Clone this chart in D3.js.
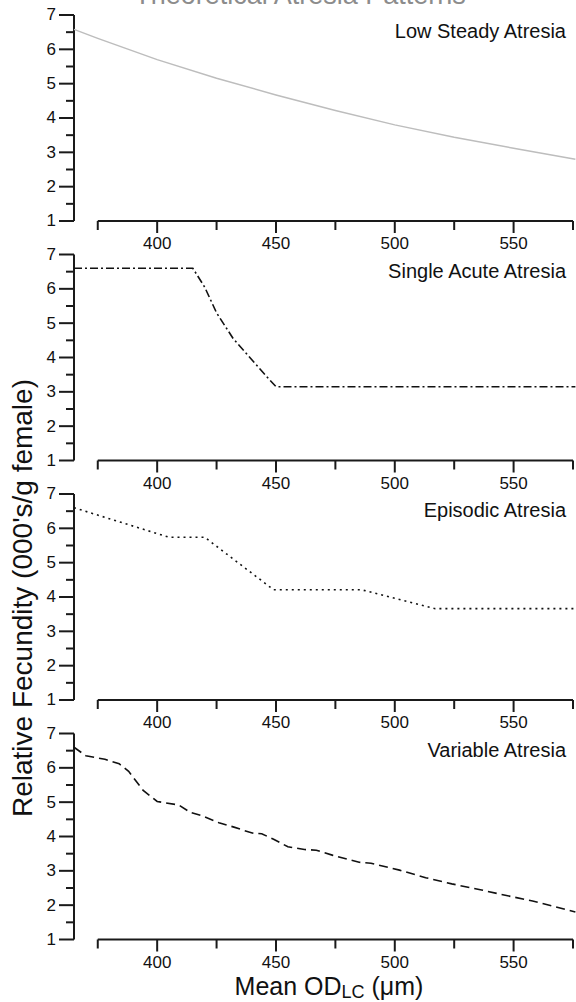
<!DOCTYPE html>
<html>
<head>
<meta charset="utf-8">
<script src="https://cdn.jsdelivr.net/npm/d3@7"></script>
<style>
    body { margin: 0; background: #fff; }
    text { font-family: 'Liberation Sans', Arial, sans-serif; }
</style>
</head>
<body>
<div id="container"></div>
<script>
// values
const panelNames = ['Low Steady Atresia', 'Single Acute Atresia', 'Episodic Atresia', 'Variable Atresia']

const lowSteadyX = [365, 375, 400, 425, 450, 475, 500, 525, 550, 576]
const lowSteadyY = [6.58, 6.32, 5.7, 5.16, 4.67, 4.22, 3.8, 3.44, 3.12, 2.8]

const singleAcuteX = [365, 415, 420, 425, 432, 439, 446, 450, 576]
const singleAcuteY = [6.6, 6.6, 6.05, 5.3, 4.55, 4.0, 3.45, 3.15, 3.15]

const episodicX = [365, 405, 420, 449, 486, 517, 576]
const episodicY = [6.6, 5.74, 5.74, 4.21, 4.21, 3.66, 3.66]

const variableX = [365, 370, 378, 384, 388, 394, 400, 409, 414, 419, 426, 432, 440, 444, 449,
    455, 462, 467, 474, 485, 490, 502, 513, 524, 536, 547, 558, 566, 576]
const variableY = [6.6, 6.35, 6.25, 6.12, 5.9, 5.35, 5.02, 4.92, 4.7, 4.6, 4.4, 4.28, 4.1, 4.08, 3.92,
    3.7, 3.62, 3.6, 3.45, 3.25, 3.22, 3.02, 2.8, 2.62, 2.45, 2.28, 2.12, 1.98, 1.8]

const xDomain = [365, 575]
const xAxisDomain = [375, 575]
const xMajorTicks = [400, 450, 500, 550]
const xMinorTicks = [375, 425, 475, 525, 575]
const yDomain = [1, 7]
const yMajorTicks = [1, 2, 3, 4, 5, 6, 7]
const yMinorTicks = [1.5, 2.5, 3.5, 4.5, 5.5, 6.5]

const config = {
    width: 576,
    height: 1002,
    plot: { left: 74, right: 573 },
    panel: { top: 15, step: 239.5, height: 206 },
    tick: { yMajor: 15, yMinor: 8, xMajor: 12, xMinor: 9 },
    axisColor: '#1a1a1a',
}

const panels = [
    { name: panelNames[0], xs: lowSteadyX, ys: lowSteadyY, color: '#bdbdbd', dash: null },
    { name: panelNames[1], xs: singleAcuteX, ys: singleAcuteY, color: '#111', dash: '8,3,2,3' },
    { name: panelNames[2], xs: episodicX, ys: episodicY, color: '#111', dash: '2,4' },
    { name: panelNames[3], xs: variableX, ys: variableY, color: '#111', dash: '9,5' },
]

const svg = d3
    .select('#container')
    .append('svg')
    .attr('width', config.width)
    .attr('height', config.height)
    .attr('viewBox', `0 0 ${config.width} ${config.height}`)

const scaleX = d3
    .scaleLinear()
    .domain(xDomain)
    .range([config.plot.left, config.plot.right])

// the x axis is drawn detached from the y axis, starting at 375
const axisScaleX = scaleX
    .copy()
    .domain(xAxisDomain)
    .range(xAxisDomain.map(scaleX))

// title, cut off at the top of the picture
svg.append('text')
    .attr('x', 300)
    .attr('y', 4)
    .attr('text-anchor', 'middle')
    .attr('font-size', '27px')
    .attr('fill', '#8c8c8c')
    .text('Theoretical Atresia Patterns')

function styleAxis(g) {
    g.selectAll('path, line')
        .attr('stroke', config.axisColor)
        .attr('stroke-width', 2)
    g.selectAll('text')
        .attr('fill', '#111')
        .attr('font-size', '17px')
        .attr('font-family', "'Liberation Sans', Arial, sans-serif")
}

panels.forEach((panel, i) => {
    const top = config.panel.top + i * config.panel.step
    const bottom = top + config.panel.height

    const scaleY = d3
        .scaleLinear()
        .domain(yDomain)
        .range([bottom, top])

    const root = svg.append('g')

    // y axis, major and minor ticks
    root.append('g')
        .attr('transform', `translate(${config.plot.left}, 0)`)
        .call(d3.axisLeft(scaleY)
            .tickValues(yMajorTicks)
            .tickFormat(d3.format('d'))
            .tickSize(config.tick.yMajor)
            .tickSizeOuter(0)
            .tickPadding(3)
            .offset(0))
        .call(styleAxis)

    root.append('g')
        .attr('transform', `translate(${config.plot.left}, 0)`)
        .call(d3.axisLeft(scaleY)
            .tickValues(yMinorTicks)
            .tickSize(config.tick.yMinor)
            .tickFormat('')
            .offset(0))
        .call(g => g.select('.domain').remove())
        .call(styleAxis)

    // x axis
    root.append('g')
        .attr('transform', `translate(0, ${bottom})`)
        .call(d3.axisBottom(axisScaleX)
            .tickValues(xMajorTicks)
            .tickFormat(d3.format('d'))
            .tickSize(config.tick.xMajor)
            .tickSizeOuter(0)
            .tickPadding(4)
            .offset(0))
        .call(styleAxis)

    root.append('g')
        .attr('transform', `translate(0, ${bottom})`)
        .call(d3.axisBottom(axisScaleX)
            .tickValues(xMinorTicks)
            .tickSize(config.tick.xMinor)
            .tickFormat('')
            .offset(0))
        .call(g => g.select('.domain').remove())
        .call(styleAxis)

    const points = panel.xs.map((x, j) => [x, panel.ys[j]])

    const line = d3.line()
        .x(d => scaleX(d[0]))
        .y(d => scaleY(d[1]))

    root.append('path')
        .datum(points)
        .attr('d', line)
        .attr('fill', 'none')
        .attr('stroke', panel.color)
        .attr('stroke-width', panel.dash ? 1.6 : 1.5)
        .attr('stroke-dasharray', panel.dash)

    root.append('text')
        .attr('x', 566)
        .attr('y', top + 23)
        .attr('text-anchor', 'end')
        .attr('font-size', '20px')
        .attr('fill', '#111')
        .text(panel.name)
})

// y axis label
svg.append('text')
    .attr('transform', 'translate(32, 598) rotate(-90)')
    .attr('text-anchor', 'middle')
    .attr('font-size', '28px')
    .attr('fill', '#111')
    .text("Relative Fecundity (000's/g female)")

// x axis label with subscript
const xLabel = svg.append('text')
    .attr('x', 329)
    .attr('y', 995)
    .attr('text-anchor', 'middle')
    .attr('font-size', '25px')
    .attr('fill', '#111')

xLabel.append('tspan').text('Mean OD')
xLabel.append('tspan').attr('font-size', '18px').attr('dy', 3).text('LC')
xLabel.append('tspan').attr('dy', -3).text(' (\u03bcm)')
</script>
</body>
</html>
